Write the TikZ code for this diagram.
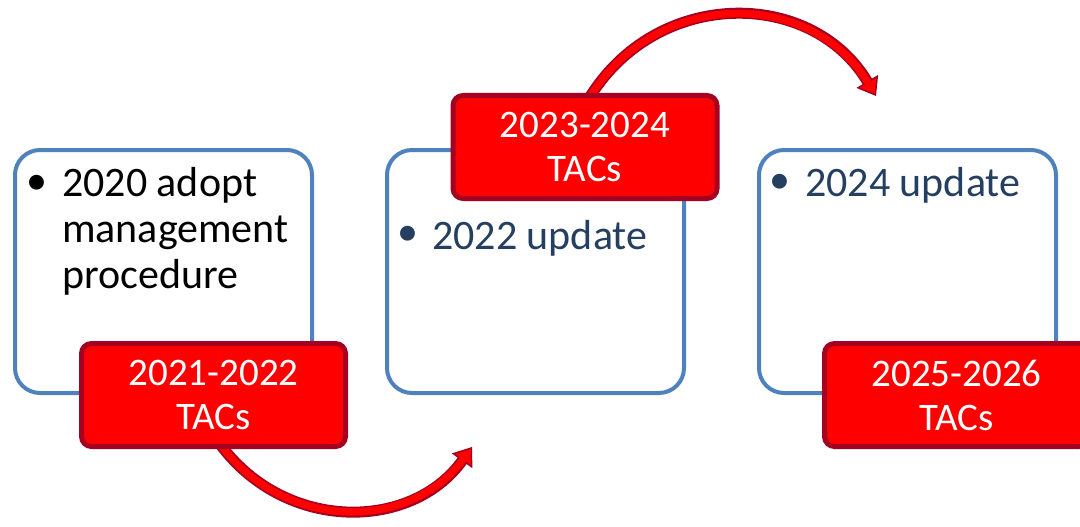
\documentclass[tikz,border=0pt]{standalone}
\usepackage{fontspec}
\setmainfont{Carlito}
\usetikzlibrary{arrows.meta}
\definecolor{boxblue}{RGB}{79,129,189}
\definecolor{darkred}{RGB}{165,0,33}
\definecolor{txtblue}{RGB}{36,63,96}
\definecolor{brightred}{RGB}{255,0,0}
\tikzset{
  bluebox/.style={draw=boxblue, line width=4pt, rounded corners=25pt, fill=white,
    minimum width=297pt, minimum height=243pt, inner sep=0pt},
  redbox/.style={draw=darkred, line width=5pt, rounded corners=10pt, fill=brightred,
    minimum width=264pt, minimum height=103pt, inner sep=0pt, text=white, align=center,
    font=\fontsize{39}{44}\selectfont},
  boxtext/.style={anchor=base west, inner sep=0pt, font=\fontsize{42}{46}\selectfont},
  bulletmark/.style={anchor=center, inner sep=0pt, font=\fontsize{42}{46}\selectfont},
  arrowouter/.style={draw=darkred, line width=11pt,
    -{Triangle[width=25pt,length=17pt,color=darkred,fill=brightred,line width=1.5pt]}},
  arrowinner/.style={draw=brightred, line width=7.5pt, shorten >=14pt}
}
\begin{document}
\begin{tikzpicture}[x=1pt,y=-1pt]
\clip (0,0) rectangle (1080,527);
\useasboundingbox (0,0) rectangle (1080,527);

% blue boxes
\node[bluebox] (b1) at (163.5,271.5) {};
\node[bluebox] (b2) at (535.5,271.5) {};
\node[bluebox] (b3) at (907.5,271.5) {};

% texts in blue boxes
\node[bulletmark, text=black] (k1) at (37,185) {•};
\node[boxtext, text=black] (t1a) at (62,196) {2020 adopt};
\node[boxtext, text=black] (t1b) at (62,242) {management};
\node[boxtext, text=black] (t1c) at (62,288) {procedure};

\node[bulletmark, text=txtblue] (k2) at (408,236) {•};
\node[boxtext, text=txtblue] (t2) at (432,249) {2022 update};

\node[bulletmark, text=txtblue] (k3) at (780,184) {•};
\node[boxtext, text=txtblue] (t3) at (805,196) {2024 update};

% arrows (drawn below the red boxes)
\coordinate (s1) at (217,440);
\coordinate (e1) at (472,447);
\coordinate (s2) at (588,100);
\coordinate (e2) at (876,96);
\draw[arrowouter] (s1) .. controls (282,533) and (411,532) .. (e1);
\draw[arrowinner] (s1) .. controls (282,533) and (411,532) .. (e1);
\draw[arrowouter] (s2) .. controls (655.5,-13) and (811.5,-12) .. (e2);
\draw[arrowinner] (s2) .. controls (655.5,-13) and (811.5,-12) .. (e2);

% red boxes
\node[redbox] (r1) at (213.5,395) {2021-2022\\TACs};
\node[redbox] (r2) at (585,147) {2023-2024\\TACs};
\node[redbox] (r3) at (956.5,395) {2025-2026\\TACs};
\end{tikzpicture}
\end{document}
